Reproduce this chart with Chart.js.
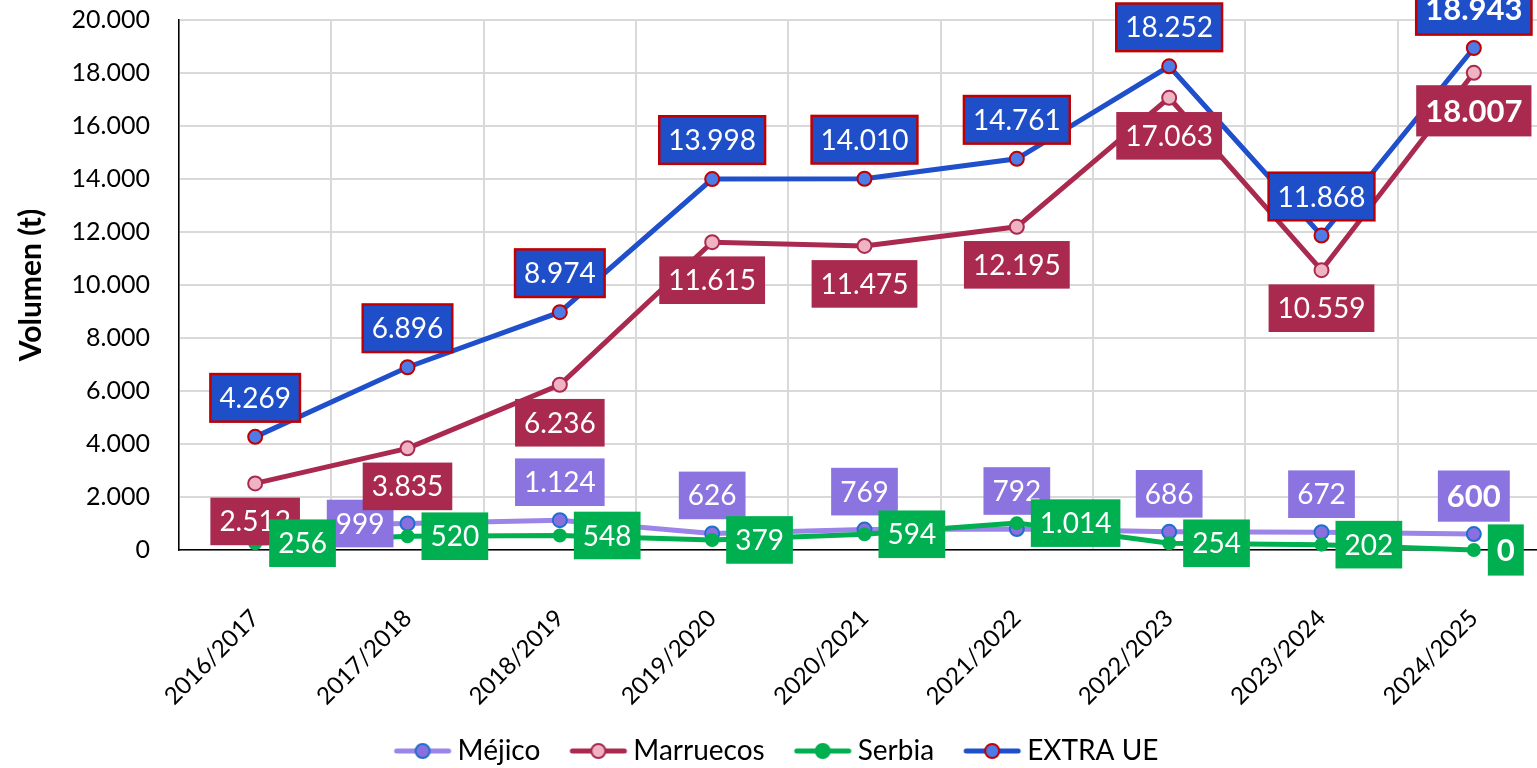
<!DOCTYPE html>
<html><head><meta charset="utf-8">
<script src="https://cdn.jsdelivr.net/npm/chart.js@4.4.1/dist/chart.umd.min.js"></script>
<style>
html,body{margin:0;padding:0;overflow:hidden;background:#fff;width:1537px;height:768px}
#c{position:absolute;left:0;top:0}
</style></head>
<body><canvas id="c" width="1560" height="768"></canvas>
<script>
// ---- data ----
const categories = ['2016/2017','2017/2018','2018/2019','2019/2020','2020/2021','2021/2022','2022/2023','2023/2024','2024/2025'];
const seriesNames = ['Méjico','Marruecos','Serbia','EXTRA UE'];
const mejico    = [900, 999, 1124, 626, 769, 792, 686, 672, 600];
const marruecos = [2512, 3835, 6236, 11615, 11475, 12195, 17063, 10559, 18007];
const serbia    = [256, 520, 548, 379, 594, 1014, 254, 202, 0];
const extraUE   = [4269, 6896, 8974, 13998, 14010, 14761, 18252, 11868, 18943];
const yMin = 0, yMax = 20000, yStep = 2000;
const yTitle = 'Volumen (t)';

const fmt = v => String(Math.round(v)).replace(/\B(?=(\d{3})+(?!\d))/g, '.');

// ---- styles ----
const styles = [
  {line:'#9C84E8', fill:'#8A6FDF', border:'#1F6FCF', r:7, label:'#8B74E0', place:'above', d:38, hide:[0], left:[1]},
  {line:'#A9294F', fill:'#EFB3C3', border:'#A9294F', r:7, label:'#A9294F', place:'below', d:38},
  {line:'#00B050', fill:'#00B050', border:'#00B050', r:6, label:'#00B050', place:'right', d:14},
  {line:'#1F4FCB', fill:'#4D7BE8', border:'#C00000', r:7, label:'#1F4FC8', place:'above', d:39, stroke:'#C00000'}
];
const FONT = 'Lato';

function legendImg(s){
  const c = document.createElement('canvas');
  c.width = 70; c.height = 20;
  const x = c.getContext('2d');
  x.strokeStyle = s.line; x.lineWidth = 5; x.lineCap = 'round';
  x.beginPath(); x.moveTo(14,10); x.lineTo(66,10); x.stroke();
  x.beginPath(); x.arc(40,10,7,0,Math.PI*2);
  x.fillStyle = s.fill; x.fill();
  x.lineWidth = 2; x.strokeStyle = s.border; x.stroke();
  return c;
}

const labelPlugin = {
  id:'boxLabels',
  afterDatasetsDraw(chart){
    const ctx = chart.ctx;
    chart.data.datasets.forEach((ds, di) => {
      const st = styles[di];
      const meta = chart.getDatasetMeta(di);
      meta.data.forEach((pt, i) => {
        if (st.hide && st.hide.includes(i)) return;
        const last = i === ds.data.length - 1;
        const size = last ? 31 : 28;
        ctx.save();
        ctx.font = (last ? 'bold ' : '') + size + 'px ' + FONT;
        const text = fmt(ds.data[i]);
        const w = ctx.measureText(text).width + 18;
        const h = size * 1.2 + 14;
        let cx = pt.x, cy = pt.y;
        let place = st.place;
        if (st.left && st.left.includes(i)) place = 'left';
        if (place === 'above') cy = pt.y - st.d;
        else if (place === 'below') cy = pt.y + st.d;
        else if (place === 'right') cx = pt.x + st.d + w / 2;
        else if (place === 'left') cx = pt.x - 14 - w / 2;
        ctx.fillStyle = st.label;
        ctx.fillRect(cx - w/2, cy - h/2, w, h);
        if (st.stroke){
          ctx.strokeStyle = st.stroke; ctx.lineWidth = 2.5;
          ctx.strokeRect(cx - w/2, cy - h/2, w, h);
        }
        ctx.fillStyle = '#fff';
        ctx.textAlign = 'center'; ctx.textBaseline = 'middle';
        ctx.fillText(text, cx, cy + 1);
        ctx.restore();
      });
    });
  }
};

function build(){
  const values = [mejico, marruecos, serbia, extraUE];
  const orders = [4, 3, 2, 1];
  const imgs = styles.map(legendImg);
  new Chart(document.getElementById('c'), {
    type:'line',
    data:{
      labels: categories,
      datasets: seriesNames.map((name, i) => ({
        label: name,
        data: values[i],
        borderColor: styles[i].line,
        backgroundColor: styles[i].fill,
        pointBackgroundColor: styles[i].fill,
        pointBorderColor: styles[i].border,
        pointRadius: styles[i].r,
        pointBorderWidth: 2,
        borderWidth: 5,
        tension: 0,
        clip: false,
        order: orders[i]
      }))
    },
    options:{
      responsive:false, animation:false, devicePixelRatio:1,
      layout:{padding:{top:20, right:10, left:0, bottom:-7}},
      plugins:{
        tooltip:{enabled:false},
        legend:{
          position:'bottom',
          labels:{
            font:{family:FONT, size:28}, color:'#000',
            usePointStyle:true, pointStyleWidth:52, padding:27,
            generateLabels: chart => chart.data.datasets.map((ds, i) => ({
              text: ds.label, pointStyle: imgs[i], datasetIndex:i,
              fillStyle: styles[i].fill, strokeStyle: styles[i].line, lineWidth:0, hidden:false
            }))
          }
        }
      },
      scales:{
        x:{
          offset:true,
          grid:{offset:true, color:'#d9d9d9', lineWidth:2, drawTicks:false},
          border:{color:'#000', width:1.5},
          ticks:{autoSkip:false, minRotation:45, maxRotation:45, padding:54,
                 font:{family:FONT, size:24}, color:'#000'},
          afterFit(s){ s.height = 160; s.paddingLeft = 0; s.paddingRight = 0; }
        },
        y:{
          min:yMin, max:yMax,
          grid:{color:'#d9d9d9', lineWidth:2, drawTicks:false},
          border:{color:'#000', width:1.5},
          ticks:{stepSize:yStep, callback:v => fmt(v), padding:29,
                 font:{family:FONT, size:25}, color:'#000'},
          title:{display:true, text:yTitle, color:'#000',
                 font:{family:FONT, size:30, weight:'bold'}, padding:{top:13, bottom:0}},
          afterFit(s){ s.width = 179; s.paddingTop = 0; s.paddingBottom = 0; }
        }
      }
    },
    plugins:[labelPlugin]
  });
}
Promise.all([
  document.fonts.load('28px Lato'), document.fonts.load('bold 31px Lato')
]).then(build, build);
</script>
</body></html>
